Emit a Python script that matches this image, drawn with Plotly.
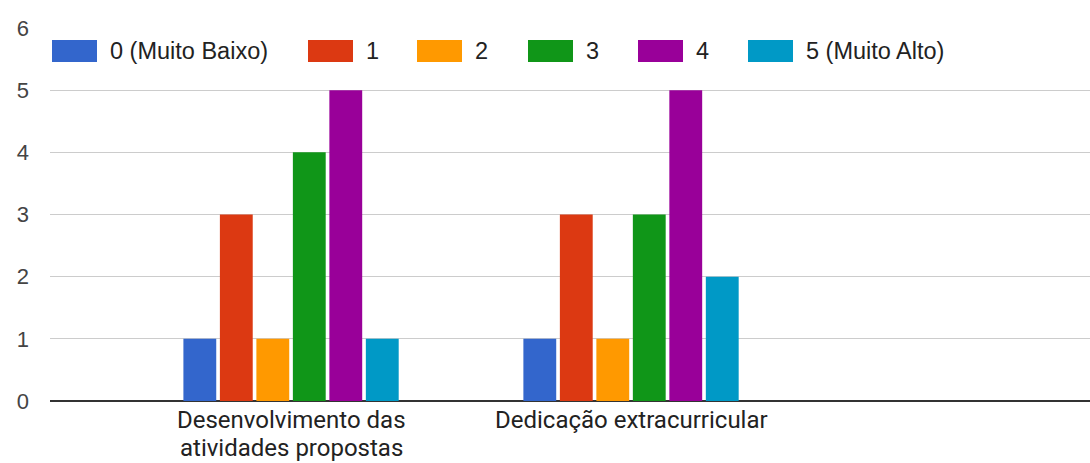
import plotly.graph_objects as go

# Survey answers: count of responses per rating, for each aspect evaluated
categories = ["Desenvolvimento das<br>atividades propostas", "Dedicação extracurricular"]
series_names = ["0 (Muito Baixo)", "1", "2", "3", "4", "5 (Muito Alto)"]
rating_0 = [1, 1]
rating_1 = [3, 3]
rating_2 = [1, 1]
rating_3 = [4, 3]
rating_4 = [5, 5]
rating_5 = [1, 2]
y_ticks = [0, 1, 2, 3, 4, 5, 6]

series_values = [rating_0, rating_1, rating_2, rating_3, rating_4, rating_5]
colors = ["#3366cc", "#dc3912", "#ff9900", "#109618", "#990099", "#0099c6"]

W, H = 1090, 463
M_L, M_R, M_T, M_B = 50, 0, 28, 62

fig = go.Figure()
for name, vals, col in zip(series_names, series_values, colors):
    fig.add_trace(go.Bar(x=categories, y=vals, name=name, marker_color=col,
                         marker_line_width=0, showlegend=False))

def px_x(p):
    return (p - M_L) / (W - M_L - M_R)

def px_y(p):
    return (H - M_B - p) / (H - M_T - M_B)

# Legend drawn as wide swatches with labels along the top of the plot
swatch_left = [52, 308, 417, 528, 638, 748]
sw_w, sw_top, sw_bot = 45, 40, 62
for name, col, left in zip(series_names, colors, swatch_left):
    fig.add_shape(type="rect", xref="paper", yref="paper",
                  x0=px_x(left), x1=px_x(left + sw_w),
                  y0=px_y(sw_bot), y1=px_y(sw_top),
                  fillcolor=col, line_width=0, layer="above")
    fig.add_annotation(xref="paper", yref="paper", x=px_x(left + sw_w + 11),
                       y=px_y((sw_top + sw_bot) / 2), text=name, showarrow=False,
                       xanchor="left", yanchor="middle",
                       font=dict(family="Liberation Sans, Arial", size=23.5, color="#222222"))

# Category labels under each group, one annotation per line
first_line_mid, line_step = 420, 28
for cat in categories:
    for i, line in enumerate(cat.split("<br>")):
        fig.add_annotation(xref="x", yref="paper", x=cat,
                           y=px_y(first_line_mid + i * line_step), text=line,
                           showarrow=False, xanchor="center", yanchor="middle",
                           borderpad=0,
                           font=dict(family="Roboto", size=24, color="#222222"))

fig.update_layout(
    width=W, height=H,
    margin=dict(l=M_L, r=M_R, t=M_T, b=M_B),
    paper_bgcolor="white", plot_bgcolor="white",
    barmode="group", bargap=0.356, bargroupgap=0.1,
    xaxis=dict(range=[-0.709, 2.35], showgrid=False, ticks="", automargin=False,
               showticklabels=False, showline=False, zeroline=False),
    yaxis=dict(range=[0, 6], tickvals=y_ticks, showgrid=True, gridcolor="#cccccc",
               gridwidth=1, zeroline=True, zerolinecolor="#333333", zerolinewidth=2,
               automargin=False,
               tickfont=dict(family="Liberation Sans, Arial", size=22, color="#444444"),
               ticklabelstandoff=20, showline=False),
)

fig.write_html("out.html")
